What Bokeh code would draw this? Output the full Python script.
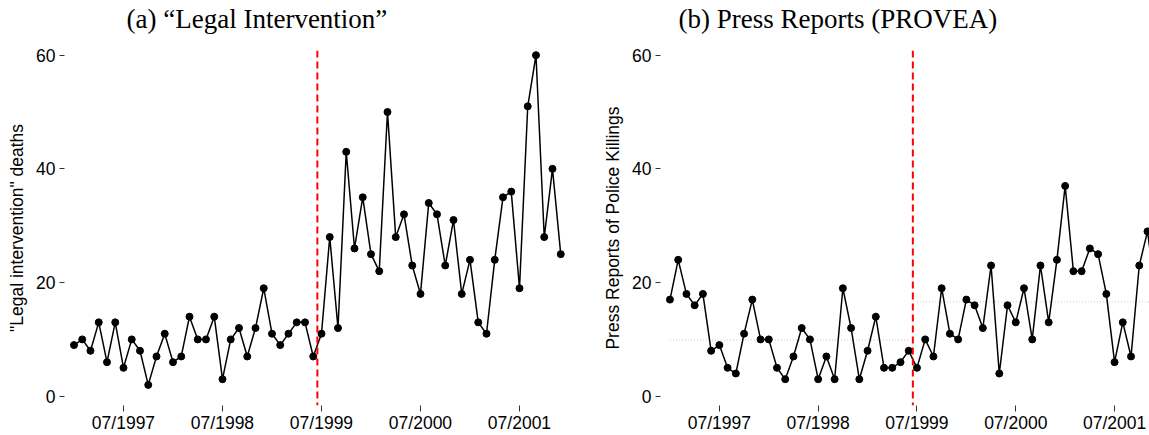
import pandas as pd
from bokeh.plotting import figure
from bokeh.layouts import row
from bokeh.models import Range1d, FixedTicker, Span, Title
from bokeh.embed import file_html
from bokeh.resources import INLINE

# ---- data -------------------------------------------------------------
months = list(pd.date_range("1997-01-01", "2001-12-01", freq="MS").strftime("%m/%Y"))

legal_deaths = [9, 10, 8, 13, 6, 13, 5, 10, 8, 2, 7, 11, 6, 7, 14, 10, 10, 14, 3, 10,
                12, 7, 12, 19, 11, 9, 11, 13, 13, 7, 11, 28, 12, 43, 26, 35, 25, 22, 50, 28,
                32, 23, 18, 34, 32, 23, 31, 18, 24, 13, 11, 24, 35, 36, 19, 51, 60, 28, 40, 25]

press_reports = [17, 24, 18, 16, 18, 8, 9, 5, 4, 11, 17, 10, 10, 5, 3, 7, 12, 10, 3, 7,
                 3, 19, 12, 3, 8, 14, 5, 5, 6, 8, 5, 10, 7, 19, 11, 10, 17, 16, 12, 23,
                 4, 16, 13, 19, 10, 23, 13, 24, 37, 22, 22, 26, 25, 18, 6, 13, 7, 23, 29, 18]

press_means = [9.9, 16.6]          # pre / post period averages (dotted lines)
break_month = "07/1999"             # first month after the break
tick_labels = ["07/1997", "07/1998", "07/1999", "07/2000", "07/2001"]
y_ticks = [0, 20, 40, 60]

titles = ["(a) \u201cLegal Intervention\u201d", "(b) Press Reports (PROVEA)"]
ylabels = ['"Legal intervention" deaths', "Press Reports of Police Killings"]

# ---- helpers ----------------------------------------------------------
x_idx = list(range(len(months)))
tick_pos = [months.index(t) for t in tick_labels]
brk = months.index(break_month)

SANS = "Liberation Sans"
FS = "17.5px"
PX_PER_MONTH = 8.25
X0 = -1.15
Y_LO, Y_HI = -1.627, 60.82
H = 435
TOP, BOTTOM = 50, 28


def make_panel(values, title, ylabel, width, left, right, title_off, means=None):
    frame_w = width - left - right
    p = figure(width=width, height=H, output_backend="svg", toolbar_location=None,
               x_range=Range1d(X0, X0 + frame_w / PX_PER_MONTH),
               y_range=Range1d(Y_LO, Y_HI),
               min_border_left=left, min_border_right=right,
               min_border_top=TOP, min_border_bottom=BOTTOM)
    p.outline_line_color = None
    p.grid.visible = False
    p.background_fill_color = "white"
    p.border_fill_color = "white"

    # spacer between frame and title (keeps the title near the top edge)
    p.add_layout(Title(text=" ", text_font_size="1px", standoff=10), "above")
    p.add_layout(Title(text=title, align="left", vertical_align="top", offset=title_off,
                       standoff=4, text_font="Liberation Serif", text_font_size="27px",
                       text_font_style="normal", text_color="black"), "above")

    if means is not None:
        p.line([x_idx[0], x_idx[brk - 1]], [means[0], means[0]],
               line_color="#c8c8c8", line_width=1, line_dash="1 2")
        p.line([x_idx[brk], x_idx[-1]], [means[1], means[1]],
               line_color="#c8c8c8", line_width=1, line_dash="1 2")

    p.add_layout(Span(location=brk - 0.5, dimension="height", line_color="#ff0000",
                      line_width=2, line_dash="7 4"))

    p.line(x_idx, values, line_color="black", line_width=1.5)
    p.scatter(x_idx, values, size=7, fill_color="black", line_color="black")

    for ax in (p.xaxis[0], p.yaxis[0]):
        ax.axis_line_color = None
        ax.major_tick_in = 0
        ax.minor_tick_line_color = None
        ax.major_tick_line_color = "#333333"
        ax.major_label_text_font = SANS
        ax.major_label_text_font_size = FS
        ax.major_label_text_color = "black"

    p.xaxis.ticker = FixedTicker(ticks=tick_pos)
    p.xaxis.major_label_overrides = {tp: tl for tp, tl in zip(tick_pos, tick_labels)}
    p.xaxis.major_tick_out = 6
    p.xaxis.major_label_standoff = 1

    p.yaxis.ticker = FixedTicker(ticks=y_ticks)
    p.yaxis.major_tick_out = 5
    p.yaxis.major_label_standoff = 4
    p.yaxis.axis_label = ylabel
    p.yaxis.axis_label_text_font = SANS
    p.yaxis.axis_label_text_font_size = FS
    p.yaxis.axis_label_text_font_style = "normal"
    p.yaxis.axis_label_text_color = "black"
    p.yaxis.axis_label_standoff = 6
    return p


p1 = make_panel(legal_deaths, titles[0], ylabels[0], width=600, left=64, right=30,
                title_off=62)
p2 = make_panel(press_reports, titles[1], ylabels[1], width=549, left=59, right=0,
                title_off=18, means=press_means)

layout = row(p1, p2)
open("out.html", "w").write(file_html(layout, INLINE))
